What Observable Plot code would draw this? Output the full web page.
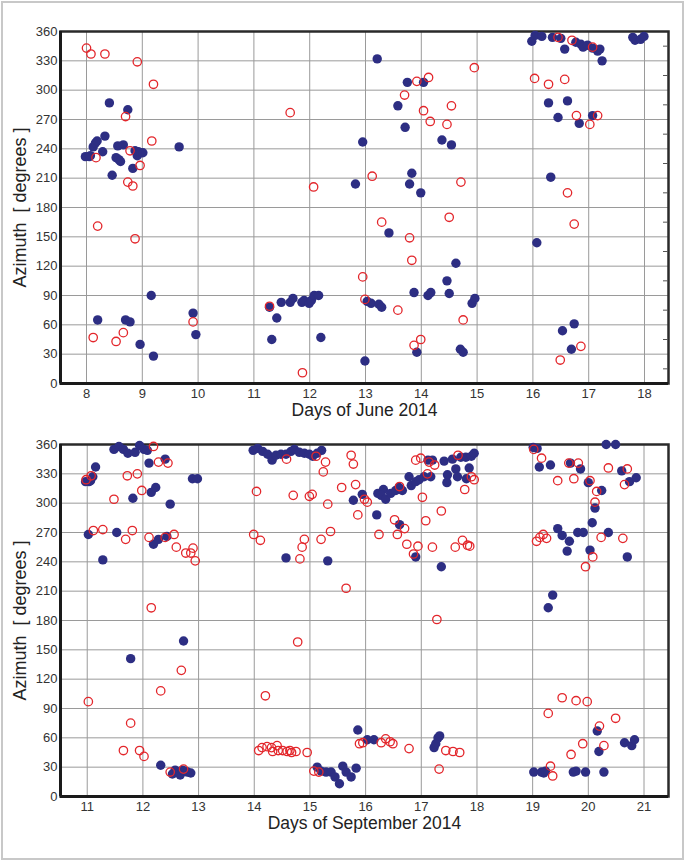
<!DOCTYPE html>
<html>
<head>
<meta charset="utf-8">
<script src="https://cdn.jsdelivr.net/npm/d3@7"></script>
<script src="https://cdn.jsdelivr.net/npm/@observablehq/plot@0.6"></script>
<style>
  html, body { margin: 0; padding: 0; background: #fff; }
  #wrap { position: relative; width: 685px; height: 861px; overflow: hidden; }
  #top, #bottom { position: absolute; left: 0; }
  #top { top: 0; }
  #bottom { top: 413px; }
  #border { position: absolute; left: 1px; top: 1px; width: 679px; height: 855px; border: 2px solid #c8c8c8; pointer-events: none; z-index: 10; }
</style>
</head>
<body>
<div id="wrap">
  <div id="top"></div>
  <div id="bottom"></div>
  <div id="border"></div>
</div>
<script>
// ---- tick labels / categories ----
const yTicks = [0, 30, 60, 90, 120, 150, 180, 210, 240, 270, 300, 330, 360];
const juneTicks = [8, 9, 10, 11, 12, 13, 14, 15, 16, 17, 18];
const septTicks = [11, 12, 13, 14, 15, 16, 17, 18, 19, 20, 21];
const juneLabel = "Days of June 2014";
const septLabel = "Days of September 2014";
const yLabel = "Azimuth\u00a0\u00a0[ degrees ]";

// ---- June 2014: [day, azimuth] ----
const juneFilled = [
  [7.98,232],[8.05,232],[8.07,233],[8.12,242],[8.16,246],[8.19,248],[8.29,237],[8.33,253],[8.41,287],[8.46,213],
  [8.53,231],[8.56,243],[8.58,229],[8.61,227],[8.66,244],[8.74,280],[8.83,220],[8.87,238],[8.91,233],[8.93,237],
  [8.97,236],[9.01,236],[8.20,65],[8.70,65],[8.78,63],[8.96,40],[9.16,90],[9.20,28],[9.66,242],[9.91,72],[9.96,50],
  [11.28,78],[11.41,67],[11.32,45],[11.49,83],[11.65,83],[11.70,87],[11.86,83],[11.90,85],[11.99,82],[12.03,85],
  [12.08,90],[12.16,90],[12.20,47],[12.82,204],[12.95,247],
  [13.21,332],[13.75,308],[14.04,308],[13.58,284],[13.71,262],[14.37,249],[14.54,244],[13.83,215],[13.79,204],
  [13.99,195],[13.42,154],[14.62,123],[14.46,105],[13.87,93],[14.12,90],[14.17,93],[14.50,92],[13.03,84],[13.10,82],
  [13.24,81],[13.29,78],[14.91,82],[14.96,87],[12.99,23],[13.92,32],[14.70,35],[14.75,32],
  [15.98,350],[16.04,356],[16.16,355],[16.35,354],[16.50,353],[16.57,342],[16.77,349],[16.86,347],[16.90,344],
  [16.98,346],[17.07,343],[17.16,340],[17.20,342],[17.24,330],[16.28,287],[16.62,289],[16.45,272],[16.83,266],
  [17.07,274],[16.32,211],[16.07,144],[16.74,61],[16.53,54],[16.69,35],[17.79,354],[17.83,351],[17.93,352],[17.99,355]
];
const juneOpen = [
  [8.00,343],[8.08,337],[8.33,337],[8.91,329],[9.20,306],[8.70,273],[9.17,248],[8.78,238],[8.17,231],[8.96,223],
  [8.74,206],[8.83,202],[8.20,161],[8.87,148],[8.12,47],[8.66,52],[8.53,43],[9.91,63],
  [11.65,277],[12.07,201],[11.28,79],[11.87,11],
  [14.95,323],[14.13,313],[13.92,309],[13.70,295],[14.54,284],[14.04,279],[14.16,268],[14.46,265],[13.12,212],
  [14.71,206],[13.29,165],[14.50,170],[13.79,149],[13.83,126],[12.95,109],[12.99,86],[13.58,75],[14.75,65],
  [13.99,45],[13.87,39],
  [16.45,354],[16.70,351],[17.07,344],[16.03,312],[16.28,306],[16.57,311],[16.78,274],[17.16,274],[17.02,265],
  [16.62,195],[16.74,163],[16.86,38],[16.49,24]
];

// ---- September 2014: [day, azimuth] ----
const septFilled = [
  [10.97,322],[11.03,322],[11.06,323],[11.10,327],[11.15,337],[11.02,268],[11.28,242],[11.53,270],[11.48,355],
  [11.57,358],[11.65,355],[11.73,351],[11.86,352],[11.94,359],[12.02,355],[12.08,354],[12.11,341],[11.82,305],
  [12.15,311],[12.23,316],[12.40,345],[12.49,299],[12.19,258],[12.28,263],[12.43,266],[11.78,141],[12.73,159],
  [12.32,32],[12.53,23],[12.58,27],[12.62,25],[12.67,22],[12.71,27],[12.76,26],[12.80,25],[12.86,24],[12.89,325],[12.98,325],
  [13.98,354],[14.06,356],[14.15,353],[14.24,350],[14.32,344],[14.39,349],[14.48,350],[14.57,350],[14.66,353],
  [14.72,355],[14.81,352],[14.90,351],[14.99,350],[15.05,348],[15.13,351],[15.21,354],
  [14.57,244],[15.32,241],[15.78,303],[15.86,68],
  [15.13,30],[15.20,26],[15.29,25],[15.38,25],[15.45,20],[15.53,13],[15.59,31],[15.65,25],[15.74,20],[15.83,29],
  [15.94,309],[16.20,288],[16.22,310],[16.32,314],[16.28,308],[16.36,304],[16.45,310],[16.54,313],[16.60,316],
  [16.66,313],[16.78,327],[16.82,318],[16.90,322],[16.96,324],[17.05,327],[17.12,344],[17.20,344],[17.17,327],
  [16.61,278],[16.90,245],[17.36,235],[17.41,343],[17.56,345],[17.62,335],[17.47,329],[17.46,321],[17.65,327],
  [17.71,347],[17.80,347],[17.86,336],[17.81,325],[17.90,348],[17.95,351],
  [16.03,58],[16.15,58],[17.23,50],[17.26,54],[17.30,60],[17.33,62],
  [19.01,357],[19.08,356],[19.12,337],[19.32,339],[19.68,341],[19.86,335],[20.00,321],[20.24,313],[20.12,295],
  [20.32,360],[20.49,360],[20.60,333],[20.74,322],[20.86,326],[20.07,280],[19.45,274],[19.53,267],[19.66,261],
  [19.62,251],[19.81,270],[19.91,270],[20.03,252],[20.36,270],[20.70,245],[19.36,206],[19.28,193],[20.16,67],
  [20.19,46],[20.65,55],[20.78,52],[20.83,58],[19.02,25],[19.16,25],[19.20,24],[19.23,26],[19.73,25],[19.78,26],
  [19.95,25],[20.28,25]
];
const septOpen = [
  [10.98,324],[11.07,328],[12.19,358],[12.28,342],[12.45,341],[11.72,328],[11.90,330],[11.98,313],[11.48,304],
  [11.11,272],[11.28,273],[11.69,263],[11.81,272],[12.11,265],[12.40,265],[12.56,268],[12.60,255],[12.77,249],
  [12.86,249],[12.90,254],[12.94,241],[12.15,193],[12.69,129],[12.32,108],[11.02,97],[11.78,75],[11.65,47],
  [11.94,47],[12.02,41],[12.49,25],[12.73,28],
  [14.58,345],[15.11,348],[15.28,342],[15.24,332],[15.74,349],[15.78,340],[15.82,319],[15.57,316],[14.04,312],
  [14.70,308],[14.99,307],[15.04,309],[15.32,299],[15.86,288],[13.99,268],[14.11,262],[14.90,263],[15.20,263],
  [15.37,271],[14.86,255],[14.82,243],[15.65,213],[14.78,158],[14.20,103],
  [14.08,47],[14.14,50],[14.23,51],[14.31,50],[14.33,46],[14.41,52],[14.43,47],[14.51,47],[14.59,46],[14.64,47],
  [14.67,45],[14.75,46],[14.95,45],[15.07,26],[15.16,25],[15.89,54],
  [15.98,304],[16.03,301],[16.24,268],[16.52,283],[16.57,268],[16.61,317],[16.70,274],[16.74,258],[16.86,248],
  [16.94,256],[16.90,344],[16.99,346],[17.02,306],[17.08,282],[17.11,330],[17.14,342],[17.24,339],[17.20,255],
  [17.36,292],[17.28,181],[17.61,255],[17.66,349],[17.74,262],[17.78,314],[17.83,257],[17.87,256],[17.90,327],[17.95,324],
  [15.95,55],[16.28,55],[16.36,59],[16.44,56],[16.49,54],[16.78,49],[17.44,47],[17.57,46],[17.69,45],[17.32,28],
  [19.02,355],[19.16,346],[19.45,323],[19.65,341],[19.74,325],[19.82,341],[20.03,323],[20.15,312],[20.12,301],
  [20.36,336],[20.65,319],[20.70,335],[19.07,261],[19.13,265],[19.19,268],[19.25,264],[20.08,245],[19.95,235],
  [20.23,265],[20.62,264],[19.53,101],[19.78,98],[19.98,97],[19.28,85],[20.49,80],[20.20,72],[19.90,54],[20.28,52],
  [19.69,43],[19.32,31],[19.36,21]
];

const minorRight = [15, 45, 75, 105, 135, 165, 195, 225, 255, 285, 315, 345];

function panel({filled, open, xDomain, ticks, xLabel, minor}) {
  const pxPerDay = 608 / (xDomain[1] - xDomain[0]);
  const marks = [
    Plot.gridX(ticks, {stroke: "#9a9a9a", strokeOpacity: 1, strokeWidth: 1}),
    Plot.gridY(yTicks, {stroke: "#9a9a9a", strokeOpacity: 1, strokeWidth: 1}),
    Plot.axisX(ticks, {tickSize: 0, tickPadding: 5, label: null, fontSize: 13, fill: "#333"}),
    Plot.axisY(yTicks, {tickSize: 0, tickPadding: 3, label: null, fontSize: 13, fill: "#333"}),
    Plot.frame({stroke: "#2a2a2a", strokeWidth: 2.5}),
    Plot.ruleX([xDomain[0]], {stroke: "#1a1a1a", strokeWidth: 3}),
    Plot.ruleY([0], {stroke: "#1a1a1a", strokeWidth: 3})
  ];
  if (minor) {
    marks.push(Plot.ruleY(minorRight, {y: d => d, x1: xDomain[1] - 5 / pxPerDay, x2: xDomain[1], stroke: "#555", strokeWidth: 1}));
  }
  marks.push(
    Plot.dot(filled, {x: d => d[0], y: d => d[1], r: 4.7, fill: "#2d2e83", stroke: "none"}),
    Plot.dot(open, {x: d => d[0], y: d => d[1], r: 4.2, fill: "none", stroke: "#e3262b", strokeWidth: 1.3}),
    Plot.text([xLabel], {text: d => d, frameAnchor: "bottom", lineAnchor: "middle", textAnchor: "middle", dy: 27, fontSize: 17.5, fill: "#222"}),
    Plot.text([yLabel], {text: d => d, frameAnchor: "left", lineAnchor: "middle", textAnchor: "middle", dx: -40, rotate: -90, fontSize: 18, fill: "#222"})
  );
  return Plot.plot({
    width: 685,
    height: 430,
    marginTop: 31,
    marginBottom: 47,
    marginLeft: 60,
    marginRight: 17,
    style: {fontFamily: "'Liberation Sans', Arial, sans-serif", fontSize: "13px", color: "#333", background: "transparent", overflow: "visible"},
    x: {domain: xDomain},
    y: {domain: [0, 360]},
    marks
  });
}

document.getElementById("top").append(panel({
  filled: juneFilled, open: juneOpen, xDomain: [7.534, 18.43], ticks: juneTicks, xLabel: juneLabel, minor: true
}));
document.getElementById("bottom").append(panel({
  filled: septFilled, open: septOpen, xDomain: [10.52, 21.44], ticks: septTicks, xLabel: septLabel, minor: false
}));
</script>
</body>
</html>
